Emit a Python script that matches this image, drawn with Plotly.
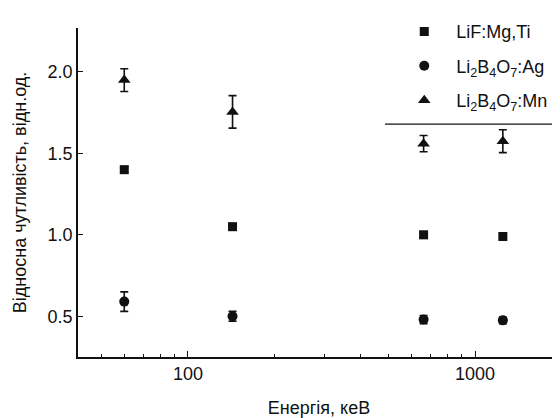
import plotly.graph_objects as go

energy = [60, 143, 662, 1250]

lif_vals = [1.40, 1.05, 1.00, 0.99]
lif_err = [0.02, 0.02, 0.02, 0.02]

ag_vals = [0.59, 0.50, 0.48, 0.475]
ag_err = [0.06, 0.03, 0.025, 0.02]

mn_vals = [1.95, 1.755, 1.56, 1.575]
mn_err = [0.07, 0.10, 0.05, 0.07]

names = ["LiF:Mg,Ti", "Li<sub>2</sub>B<sub>4</sub>O<sub>7</sub>:Ag", "Li<sub>2</sub>B<sub>4</sub>O<sub>7</sub>:Mn"]
symbols = ["square", "circle", "triangle-up"]
sizes = [9, 10, 11]

fig = go.Figure()
for i, (vals, errs) in enumerate([(lif_vals, lif_err), (ag_vals, ag_err), (mn_vals, mn_err)]):
    fig.add_trace(go.Scatter(
        x=energy, y=vals, mode="markers", name=names[i], legendgroup=str(i),
        marker=dict(symbol=symbols[i], size=sizes[i], color="#111"),
        error_y=dict(type="data", array=errs, visible=True, color="#111", thickness=1.6, width=4),
    ))

font = "Liberation Sans, Arial, sans-serif"
fig.update_layout(
    width=552, height=410,
    margin=dict(l=70, r=0, t=20, b=61),
    paper_bgcolor="white", plot_bgcolor="white",
    font=dict(family=font, size=18, color="#111"),
    showlegend=True,
    legend=dict(x=0.652, y=1.045, xanchor="left", yanchor="top", bgcolor="rgba(0,0,0,0)",
                font=dict(size=18, family=font), tracegroupgap=8, itemwidth=54),
    xaxis=dict(type="log", range=[1.617, 3.296], showline=True, linecolor="#111", linewidth=1.5,
               showgrid=False, zeroline=False, ticks="inside", ticklen=6, tickcolor="#111",
               automargin=False,
               tickvals=[100, 1000], ticktext=["100", "1000"], tickfont=dict(size=18),
               minor=dict(ticks="inside", ticklen=3, tickcolor="#111",
                          tickvals=[50, 60, 70, 80, 90, 200, 300, 400, 500, 600, 700, 800, 900, 2000]),
               title=dict(text="Енергія, кеВ", font=dict(size=18), standoff=18)),
    yaxis=dict(range=[0.25, 2.27], showline=True, linecolor="#111", linewidth=1.5,
               showgrid=False, zeroline=False, ticks="inside", ticklen=5, tickcolor="#111",
               automargin=False,
               tickvals=[0.5, 1.0, 1.5, 2.0], ticktext=["0.5", "1.0", "1.5", "2.0"], tickfont=dict(size=18),
               title=dict(text="Відносна чутливість, відн.од.", font=dict(size=18), standoff=16)),
    shapes=[dict(type="line", xref="paper", yref="paper", x0=0.637, x1=1.0, y0=0.708, y1=0.708,
                 line=dict(color="#111", width=1.2))],
)

fig.write_html("out.html")
